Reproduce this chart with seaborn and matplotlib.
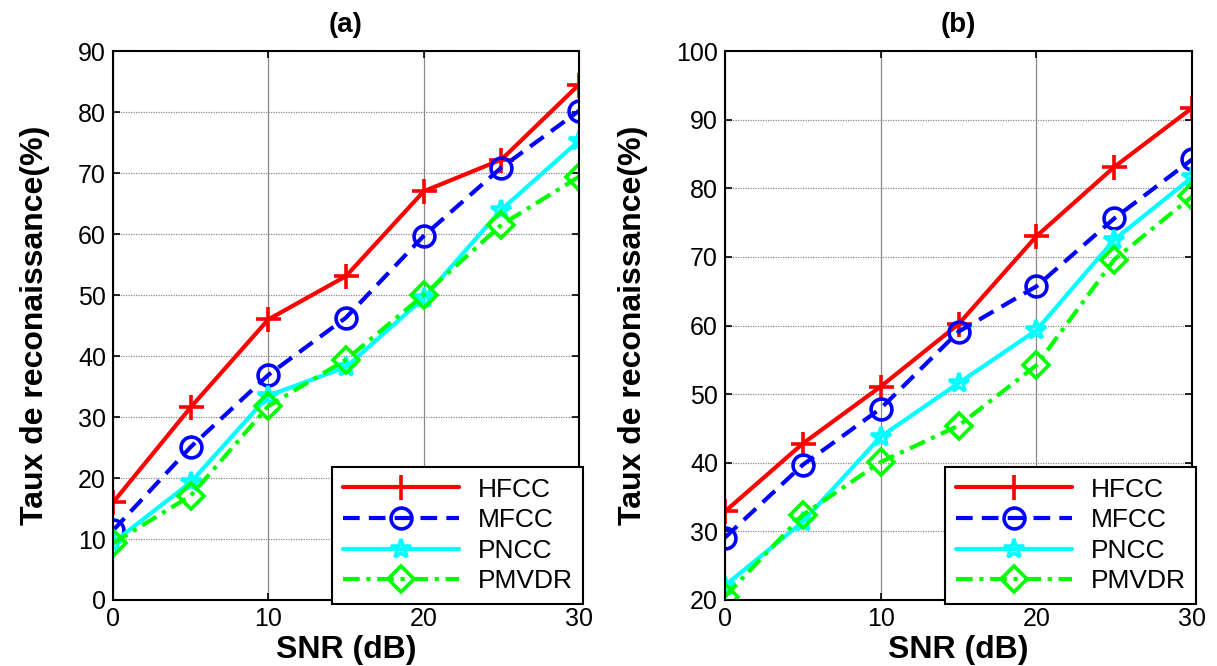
import matplotlib
matplotlib.use("Agg")
import matplotlib.pyplot as plt
import seaborn as sns
import pandas as pd

snr = [0, 5, 10, 15, 20, 25, 30]
series_names = ["HFCC", "MFCC", "PNCC", "PMVDR"]

a_hfcc = [16.0, 31.6, 46.0, 53.1, 67.0, 72.2, 84.5]
a_mfcc = [11.4, 25.1, 36.9, 46.3, 59.7, 70.9, 80.2]
a_pncc = [9.4, 19.3, 33.5, 38.2, 49.5, 64.0, 75.3]
a_pmvdr = [9.3, 17.1, 31.8, 39.4, 50.0, 61.5, 69.4]

b_hfcc = [32.9, 42.8, 51.1, 60.2, 73.0, 83.1, 91.7]
b_mfcc = [29.1, 39.7, 47.9, 59.1, 65.7, 75.6, 84.2]
b_pncc = [22.1, 31.4, 43.8, 51.6, 59.3, 72.5, 81.6]
b_pmvdr = [20.5, 32.4, 40.1, 45.4, 54.2, 69.6, 78.8]

titles = ["(a)", "(b)"]
xlabel = "SNR (dB)"
ylabel = "Taux de reconaissance(%)"

sns.set_style("white")
plt.rcParams['font.family'] = ['Liberation Sans', 'DejaVu Sans']
plt.rcParams['text.color'] = 'black'
plt.rcParams['axes.labelcolor'] = 'black'
plt.rcParams['xtick.color'] = 'black'
plt.rcParams['ytick.color'] = 'black'

colors = ["#ff0000", "#0000ff", "#00ffff", "#00ff00"]
styles = ["-", (0, (4, 2.2)), "-", (0, (4, 1.6, 1, 1.6))]
markers = ["+", "o", "*", "D"]
msizes = [18, 15, 15, 13]

fig = plt.figure(figsize=(12.17, 6.66), dpi=100)
ax_a = fig.add_axes([0.0929, 0.0991, 0.3829, 0.8243])
ax_b = fig.add_axes([0.5957, 0.0991, 0.3838, 0.8243])

panels = [
    (ax_a, [a_hfcc, a_mfcc, a_pncc, a_pmvdr], (0, 90), list(range(0, 91, 10))),
    (ax_b, [b_hfcc, b_mfcc, b_pncc, b_pmvdr], (20, 100), list(range(20, 101, 10))),
]

for i, (ax, data, ylim, yticks) in enumerate(panels):
    for name, vals, c, ls, m, ms in zip(series_names, data, colors, styles, markers, msizes):
        df = pd.DataFrame({"snr": snr, "val": vals})
        sns.lineplot(data=df, x="snr", y="val", ax=ax, color=c, linestyle=ls,
                     marker=m, markersize=ms, markerfacecolor="none",
                     markeredgecolor=c, markeredgewidth=2.6, linewidth=3,
                     label=name)
    ax.set_xlim(0, 30)
    ax.set_ylim(*ylim)
    ax.set_xticks([0, 10, 20, 30])
    ax.set_yticks(yticks)
    ax.xaxis.grid(True, color="#888888", linewidth=0.9, linestyle="-")
    ax.yaxis.grid(True, color="#888888", linewidth=0.9, linestyle=(0, (1, 1)))
    ax.set_axisbelow(True)
    ax.tick_params(direction="in", length=5, width=1.2, labelsize=18,
                   top=True, right=True, bottom=True, left=True, pad=5)
    for sp in ax.spines.values():
        sp.set_color("black")
        sp.set_linewidth(1.5)
    ax.set_xlabel(xlabel, fontsize=23, fontweight="bold", labelpad=3)
    ax.set_ylabel(ylabel, fontsize=23, fontweight="bold", labelpad=20)
    ax.set_title(titles[i], fontsize=20, fontweight="bold", pad=14)
    leg = ax.legend(loc="lower right", fontsize=19, frameon=True, fancybox=False,
                    edgecolor="black", framealpha=1, handlelength=4.4,
                    borderaxespad=-0.15, labelspacing=0.25, borderpad=0.4,
                    handletextpad=0.7)
    leg.get_frame().set_linewidth(1.5)

fig.savefig("out.png", dpi=100)
